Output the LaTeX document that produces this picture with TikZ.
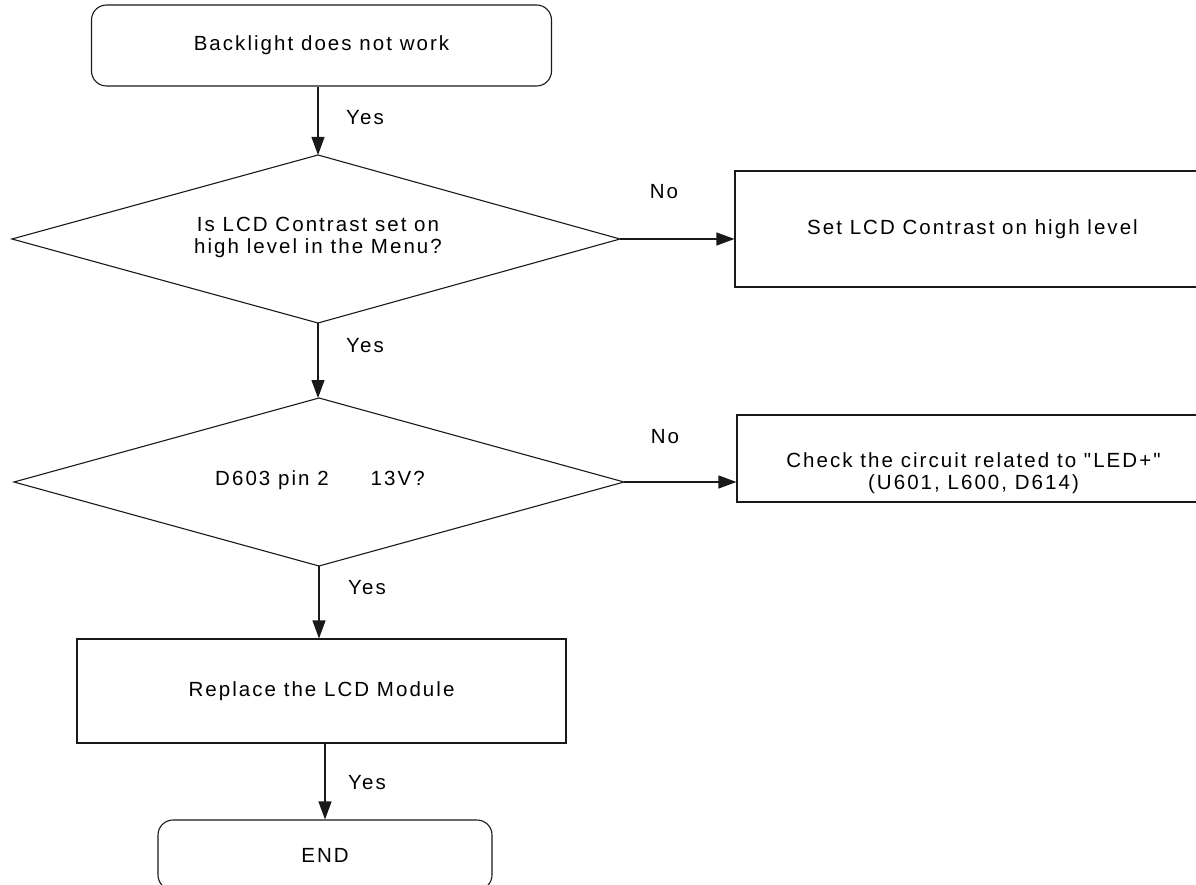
\documentclass[tikz,border=0pt]{standalone}
\usepackage{fontspec}
\newfontfamily\arialf{Liberation Sans}[LetterSpace=10]
\usetikzlibrary{arrows.meta}
\begin{document}
\begin{tikzpicture}[x=1pt,y=-1pt,
  every node/.style={font=\arialf\fontsize{20.5}{22}\selectfont, inner sep=0pt},
  ln/.style={line width=1.1pt, draw=black!90},
  rbox/.style={ln, rectangle, rounded corners=15pt},
  sbox/.style={ln, rectangle},
  arr/.style={line width=1.1pt, draw=black!90, -{Triangle[length=18pt,width=13pt]}},
  lbl/.style={anchor=center}]
\useasboundingbox (0,0) rectangle (1196,885);

\node[rbox, minimum width=460pt, minimum height=81pt] (top) at (321.5,45.5) {Backlight does not work};

% decision 1
\coordinate (d1n) at (318,155);
\coordinate (d1e) at (620,239);
\coordinate (d1s) at (318,323);
\coordinate (d1w) at (12,239);
\draw[ln] (d1n) -- (d1e) -- (d1s) -- (d1w) -- cycle;
\node[align=center] (d1) at (318,237) {Is LCD Contrast set on\\high level in the Menu?};

\node[sbox, minimum width=475pt, minimum height=116pt] (b1) at (972.5,229)
  {Set LCD Contrast on high level};

% decision 2
\coordinate (d2n) at (319,398);
\coordinate (d2e) at (624,482);
\coordinate (d2s) at (319,566);
\coordinate (d2w) at (14,482);
\draw[ln] (d2n) -- (d2e) -- (d2s) -- (d2w) -- cycle;
\node (d2) at (320,480) {D603 pin 2\hspace{42pt}13V?};

\node[sbox, minimum width=473pt, minimum height=87pt] (b2) at (973.5,458.5) {};
\node[align=center] (b2t) at (973.5,473)
  {Check the circuit related to "LED+"\\(U601, L600, D614)};

\node[sbox, minimum width=489pt, minimum height=104pt] (rep) at (321.5,691)
  {Replace the LCD Module};

\node[rbox, minimum width=334pt, minimum height=70pt] (end) at (325,855) {END};

\draw[arr] (top.south -| d1n) -- (d1n);
\draw[arr] (d1s) -- (d1s |- d2n);
\draw[arr] (d2s) -- (d2s |- rep.north);
\draw[arr] (rep.south -| end.north) -- (end.north);
\draw[arr] (d1e) -- (d1e -| b1.west);
\draw[arr] (d2e) -- (d2e -| b2.west);

\node[lbl] (y1) at (365,118) {Yes};
\node[lbl] (y2) at (365,346) {Yes};
\node[lbl] (y3) at (367,588) {Yes};
\node[lbl] (y4) at (367,783) {Yes};
\node[lbl] (n1) at (664,192) {No};
\node[lbl] (n2) at (665,437) {No};
\end{tikzpicture}
\end{document}
